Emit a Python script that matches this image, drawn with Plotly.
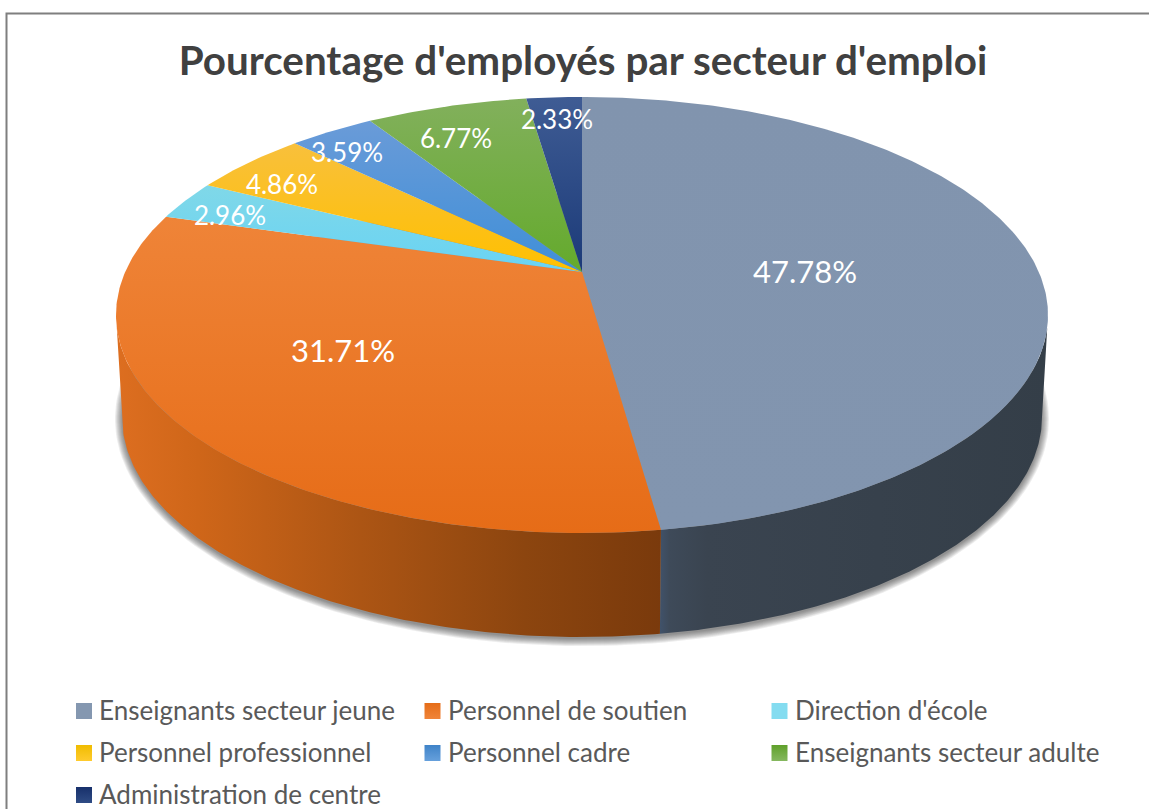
import numpy as np
import plotly.graph_objects as go

categories = ["Enseignants secteur jeune", "Personnel de soutien", "Direction d'école",
              "Personnel professionnel", "Personnel cadre", "Enseignants secteur adulte",
              "Administration de centre"]
values = [47.78, 31.71, 2.96, 4.86, 3.59, 6.77, 2.33]
labels = ["47.78%", "31.71%", "2.96%", "4.86%", "3.59%", "6.77%", "2.33%"]

# styles / layout (pixels of the 1149x809 page)
top_colors = [("#8194AE", "#8295AF"), ("#EF8438", "#E66C17"), ("#80D8E8", "#68D3F4"),
              ("#F8C03C", "#FFC000"), ("#6A9BD8", "#3F8FD8"), ("#82B05C", "#64AA2C"),
              ("#3F5C94", "#1B3A78")]
key_colors = [("#8497B0", "#8497B0"), ("#F08439", "#E56C17"), ("#84DCF0", "#84DCF0"),
              ("#FFCB2E", "#F0BC00"), ("#66A0DC", "#3F83C8"), ("#86B85F", "#5FA02A"),
              ("#2F4C85", "#17306B")]
label_xy = [(805, 275), (343, 354), (230, 218), (282, 187), (347, 155), (456, 141), (557, 122)]
label_size = [31, 31, 26, 26, 26, 26, 26]
key_xy = [(84.5, 710), (433, 710), (780, 710), (84.5, 752), (433, 752), (780, 752), (84.5, 794)]

CX, CY, RX, RY = 582, 315, 466, 218
APEX_Y = 272
BX, BY, BRX, BRY = 582, 417, 460, 220
k = (APEX_Y - CY) / RY


def rim(frac, cx=CX, cy=CY, rx=RX, ry=RY):
    """Perspective projection of a pie fraction onto an ellipse."""
    t = 2 * np.pi * np.asarray(frac)
    x, y = np.sin(t), -np.cos(t)
    d = 1 + k * y
    return cx + rx * np.sqrt(1 - k * k) * x / d, cy + ry * (y + k) / d


fig = go.Figure()


def poly(x, y, **kw):
    fig.add_trace(go.Scatter(x=list(x), y=list(y), mode="lines", fill="toself",
                             line=dict(width=0), hoverinfo="skip", showlegend=False, **kw))


# soft shadow below the pie
tt = np.linspace(0, 2 * np.pi, 240)
for d in range(8, 0, -1):
    poly(BX + (BRX + d - 1) * np.cos(tt), BY + 2 + (BRY + d - 1) * np.sin(tt),
         fillcolor="rgba(50,50,50,0.085)")

edges = np.concatenate([[0], np.cumsum(values)]) / sum(values)
right_edge = np.arccos(k) / (2 * np.pi)   # where the rim reaches the right-most point
left_edge = 1 - right_edge


# side wall
def side(a, b):
    f = np.linspace(a, b, 160)
    xt, yt = rim(f)
    xb, yb = rim(f, BX, BY, BRX, BRY)
    return np.concatenate([xt, xb[::-1]]), np.concatenate([yt, yb[::-1]])


x, y = side(right_edge, edges[1])
poly(x, y, fillgradient=dict(type="horizontal", colorscale=[
    [0, "#40526A"], [0.025, "#3E4A59"], [0.12, "#3A4450"], [1, "#343E48"]]))
x, y = side(edges[1], left_edge)
poly(x, y, fillgradient=dict(type="horizontal", colorscale=[
    [0, "#DD6E20"], [0.15, "#CF6619"], [0.45, "#AC5514"], [0.75, "#8C450F"], [1, "#7A3A0C"]]))

# top faces (the y axis is reversed, so the gradient's 0 stop is at the bottom of the face)
for i, name in enumerate(categories):
    f = np.linspace(edges[i], edges[i + 1], max(8, int(values[i] * 6)))
    xs, ys = rim(f)
    poly(np.r_[CX, xs, CX], np.r_[APEX_Y, ys, APEX_Y], name=name,
         fillgradient=dict(type="vertical",
                           colorscale=[[0, top_colors[i][1]], [1, top_colors[i][0]]]))

# data labels
for (px, py), t, s in zip(label_xy, labels, label_size):
    fig.add_trace(go.Scatter(x=[px], y=[py], mode="text", text=[t], textposition="middle center",
                             textfont=dict(family="Lato", size=s, color="white"),
                             hoverinfo="skip", showlegend=False))

# legend keys
for (px, py), name, (c1, c2) in zip(key_xy, categories, key_colors):
    fig.add_trace(go.Scatter(x=[px - 0.5], y=[py + 1], mode="markers", text=[name],
                             marker=dict(symbol="square", size=16, color=c2,
                                         gradient=dict(type="vertical", color=c1)),
                             hoverinfo="skip", showlegend=False))
    fig.add_annotation(x=px + 15.5, y=py, text=name, showarrow=False, xanchor="left",
                       yanchor="middle", xshift=-1, borderpad=0, borderwidth=0,
                       font=dict(family="Lato", size=26, color="#595959"))

fig.add_shape(type="rect", x0=6.5, y0=13.5, x1=1170, y1=830,
              line=dict(color="#7F7F7F", width=2), layer="below")

fig.update_layout(
    width=1149, height=809, margin=dict(l=0, r=0, t=0, b=0),
    paper_bgcolor="white", plot_bgcolor="white", showlegend=False,
    title=dict(text="<b>Pourcentage d'employés par secteur d'emploi</b>",
               x=583 / 1149, xanchor="center", y=1 - 61 / 809, yanchor="middle",
               font=dict(family="Lato", size=40.4, color="#404040")),
    xaxis=dict(range=[0, 1149], visible=False, fixedrange=True),
    yaxis=dict(range=[809, 0], visible=False, fixedrange=True),
)

fig.write_html("out.html", config=dict(displayModeBar=False),
               post_script="document.body.style.margin='0';document.documentElement.style.overflow='hidden';")
